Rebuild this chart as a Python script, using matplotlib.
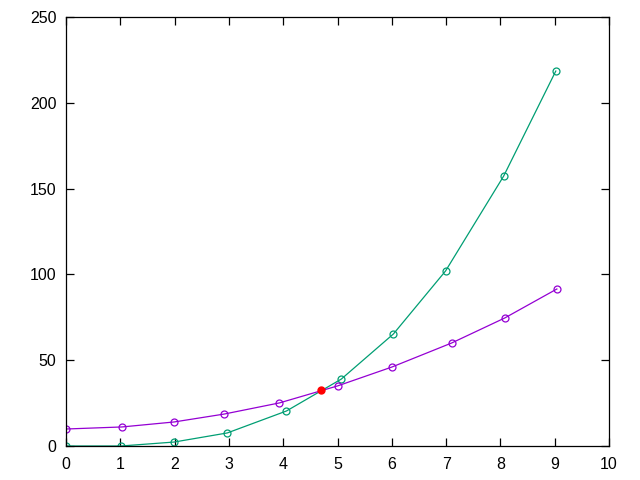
import matplotlib
matplotlib.use('Agg')
import matplotlib.pyplot as plt

plt.rcParams['font.family'] = ['Liberation Sans', 'DejaVu Sans']

# green series
x_a = [0, 1.01, 1.99, 2.97, 4.06, 5.07, 6.03, 6.99, 8.06, 9.02]
y_a = [0, 0, 2.3, 7.6, 20.4, 39.0, 65.3, 102, 157.3, 218.5]

# purple series
x_b = [0, 1.03, 1.99, 2.91, 3.93, 5.0, 6.0, 7.1, 8.08, 9.04]
y_b = [9.9, 11.1, 14.0, 18.6, 25.1, 35.0, 46.0, 60.0, 74.6, 91.5]

# crossing point
x_c = [4.70]
y_c = [32.6]

fig = plt.figure(figsize=(6.4, 4.8), dpi=100)
ax = fig.add_axes([66/640, 34/480, 543/640, 429/480])

ax.plot(x_a, y_a, color='#009e73', lw=0.9, marker='o', ms=5, mfc='none', mew=0.9)
ax.plot(x_b, y_b, color='#9400d3', lw=0.9, marker='o', ms=5, mfc='none', mew=0.9)
ax.plot(x_c, y_c, 'o', color='red', ms=5)

ax.set_xlim(0, 10)
ax.set_ylim(0, 250)
ax.set_xticks(range(0, 11))
ax.set_yticks(range(0, 251, 50))
ax.tick_params(direction='in', top=True, right=True, length=6, width=0.9, labelsize=11.5)
ax.tick_params(axis='x', pad=8)
ax.tick_params(axis='y', pad=7)
for s in ax.spines.values():
    s.set_linewidth(0.9)

fig.savefig('out.png', dpi=100)
